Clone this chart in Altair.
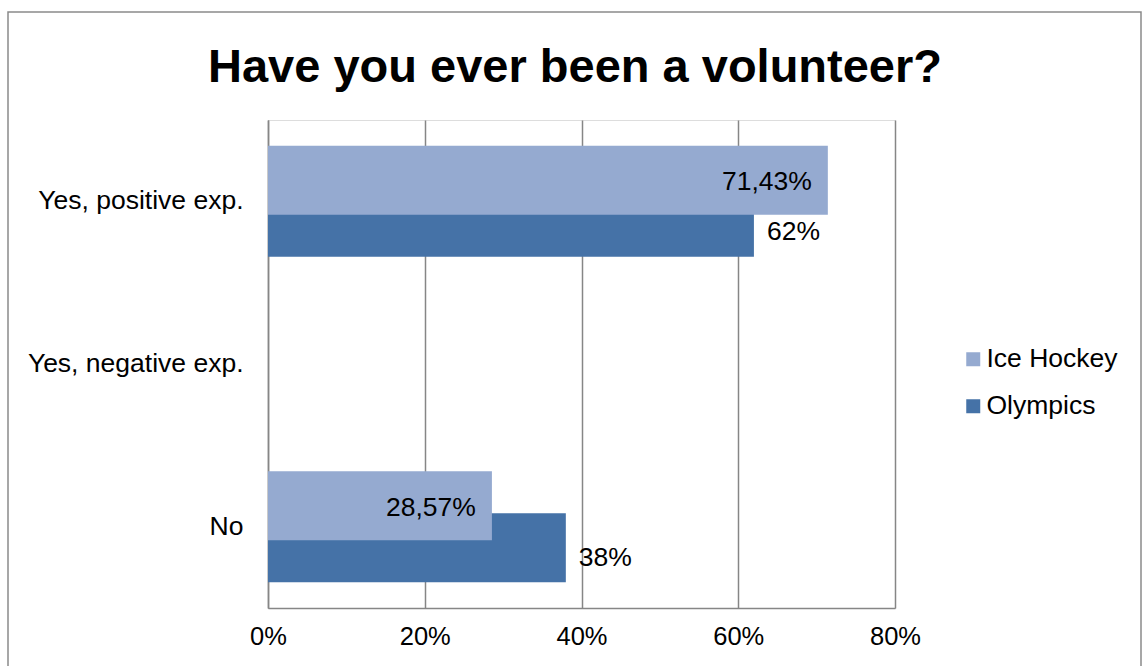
import altair as alt
import pandas as pd

title_text = "Have you ever been a volunteer?"
categories = ["Yes, positive exp.", "Yes, negative exp.", "No"]
series = ["Ice Hockey", "Olympics"]
ice_hockey = [71.43, 0.0, 28.57]
olympics = [62.0, 0.0, 38.0]
ice_labels = ["71,43%", "", "28,57%"]
olympics_labels = ["62%", "", "38%"]
colors = ["#95AAD0", "#4572A7"]

rows = []
for c, v, l in zip(categories, ice_hockey, ice_labels):
    rows.append({"category": c, "series": "Ice Hockey", "value": v / 100, "label": l})
for c, v, l in zip(categories, olympics, olympics_labels):
    rows.append({"category": c, "series": "Olympics", "value": v / 100, "label": l})
df = pd.DataFrame(rows)

FONT = "Liberation Sans"
W, H = 627, 488
PAD_L, PAD_T = 268, 120
FS = 26.5

base = alt.Chart(df)

y_enc = alt.Y(
    "category:N",
    sort=categories,
    scale=alt.Scale(paddingInner=0, paddingOuter=0),
    axis=alt.Axis(
        title=None, labelFontSize=FS, labelFont=FONT, labelColor="#000000",
        ticks=False, labelPadding=25, labelLimit=400, domainColor="#868686",
        domainWidth=1.5, grid=False,
    ),
)
x_enc = alt.X(
    "value:Q",
    scale=alt.Scale(domain=[0, 0.8], nice=False),
    axis=alt.Axis(
        title=None, values=[0, 0.2, 0.4, 0.6, 0.8], format=".0%",
        labelFontSize=25.5, labelFont=FONT, labelColor="#000000", ticks=False,
        labelAlign="center", labelFlush=False,
        labelPadding=16, domainColor="#868686", domainWidth=1.5,
        grid=True, gridColor="#868686", gridWidth=1.5,
    ),
)
color_enc = alt.Color(
    "series:N",
    scale=alt.Scale(domain=series, range=colors),
    legend=alt.Legend(
        title=None, orient="none", legendX=692, legendY=226,
        symbolType="square", symbolSize=196, symbolStrokeWidth=0,
        labelFontSize=FS, labelFont=FONT, labelColor="#000000",
        labelOffset=0, rowPadding=20, padding=0,
    ),
)

oly_bar = base.transform_filter(alt.datum.series == "Olympics").mark_bar(
    size=69, yOffset=21
).encode(x=x_enc, y=y_enc, color=color_enc)

ice_bar = base.transform_filter(alt.datum.series == "Ice Hockey").mark_bar(
    size=69, yOffset=-21
).encode(x=x_enc, y=y_enc, color=color_enc)

ice_text = base.transform_filter(
    (alt.datum.series == "Ice Hockey") & (alt.datum.value > 0)
).mark_text(
    align="right", baseline="middle", dx=-16, yOffset=-19,
    fontSize=FS, font=FONT, color="#000000",
).encode(x=x_enc, y=y_enc, text="label:N")

oly_text = base.transform_filter(
    (alt.datum.series == "Olympics") & (alt.datum.value > 0)
).mark_text(
    align="left", baseline="middle", dx=13, yOffset=31,
    fontSize=FS, font=FONT, color="#000000",
).encode(x=x_enc, y=y_enc, text="label:N")

border = alt.Chart(alt.Data(values=[{}])).mark_rect(
    fill=None, stroke="#8a8a8a", strokeWidth=1.5
).encode(
    x=alt.value(8 - PAD_L), x2=alt.value(1141 - PAD_L),
    y=alt.value(12 - PAD_T), y2=alt.value(700 - PAD_T),
)

title = alt.Chart(alt.Data(values=[{"t": title_text}])).mark_text(
    align="center", baseline="alphabetic", font=FONT, fontSize=47,
    fontWeight="bold", color="#000000",
).encode(x=alt.value(575 - PAD_L), y=alt.value(82 - PAD_T), text="t:N")

chart = alt.layer(oly_bar, ice_bar, ice_text, oly_text, border, title).properties(
    width=W, height=H,
    autosize=alt.AutoSizeParams(type="none"),
    padding={"left": PAD_L, "top": PAD_T, "right": 1142 - PAD_L - W, "bottom": 666 - PAD_T - H},
).configure_view(stroke=None).configure(background="#ffffff")

chart.save("out.html", embed_options={"renderer": "svg", "actions": False})
